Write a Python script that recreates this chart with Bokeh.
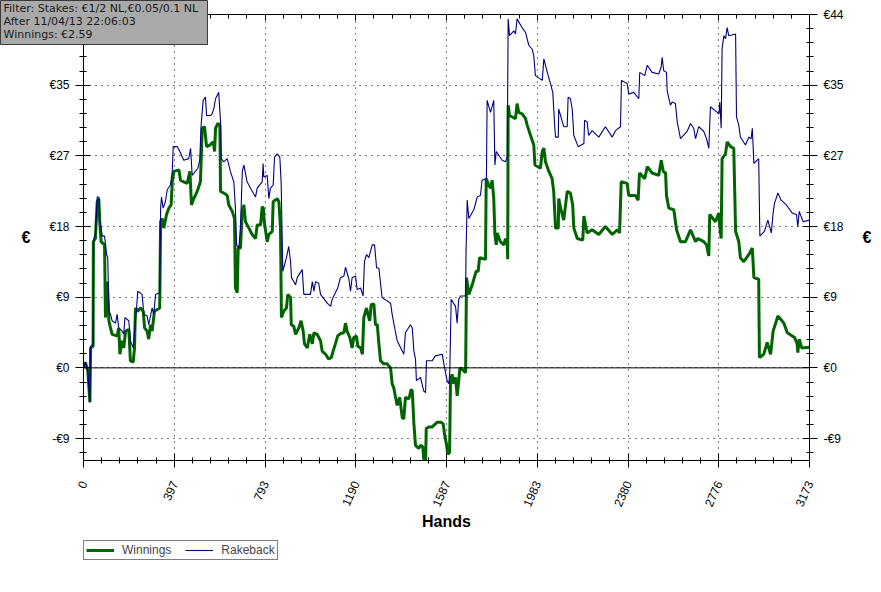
from bokeh.plotting import figure
from bokeh.layouts import column
from bokeh.models import (Range1d, LinearAxis, FixedTicker, Span, Label, Legend,
                          LegendItem, Grid)
from bokeh.embed import file_html
from bokeh.resources import INLINE

# ---------------- data ----------------
X_MAX = 3173
Y_MIN, Y_MAX = -11.6, 44.25

x_tick_labels = ["0", "397", "793", "1190", "1587", "1983", "2380", "2776", "3173"]
y_tick_labels = ["-€9", "€0", "€9", "€18", "€27", "€35", "€44"]

winnings_hands = [0, 8, 19, 28, 31, 42, 43, 52, 60, 67, 71, 77, 92, 96, 104, 111, 118, 125, 147, 154,
                  159, 169, 176, 184, 198, 205, 217, 223, 227, 237, 249, 261, 267, 278, 285, 293, 300,
                  310, 333, 337, 344, 351, 363, 373, 383, 388, 395, 417, 424, 438, 453, 465, 472, 482,
                  497, 511, 519, 529, 538, 552, 567, 573, 577, 587, 596, 599, 613, 628, 635, 650, 660,
                  664, 672, 676, 686, 694, 701, 708, 723, 737, 752, 759, 774, 781, 786, 790, 803, 810,
                  825, 829, 847, 854, 861, 865, 875, 887, 893, 905, 908, 919, 927, 941, 951, 960, 966,
                  978, 989, 1000, 1007, 1021, 1036, 1043, 1058, 1072, 1083, 1091, 1101, 1111, 1123,
                  1138, 1145, 1152, 1164, 1174, 1181, 1193, 1199, 1211, 1219, 1225, 1237, 1243, 1251,
                  1257, 1269, 1276, 1284, 1291, 1298, 1312, 1327, 1342, 1349, 1356, 1364, 1371, 1382,
                  1393, 1400, 1407, 1422, 1432, 1437, 1444, 1451, 1465, 1473, 1483, 1487, 1495, 1498,
                  1509, 1524, 1546, 1560, 1572, 1578, 1586, 1592, 1600, 1604, 1611, 1618, 1626, 1633,
                  1640, 1645, 1655, 1670, 1674, 1684, 1699, 1716, 1725, 1731, 1757, 1760, 1771, 1779,
                  1786, 1793, 1798, 1804, 1808, 1822, 1837, 1844, 1852, 1854, 1856, 1862, 1888, 1895,
                  1902, 1917, 1932, 1939, 1954, 1968, 1973, 1997, 2005, 2012, 2019, 2034, 2048, 2055,
                  2060, 2063, 2075, 2077, 2085, 2099, 2114, 2128, 2138, 2143, 2158, 2182, 2187, 2201,
                  2223, 2252, 2281, 2311, 2333, 2343, 2350, 2376, 2383, 2412, 2424, 2430, 2453, 2464,
                  2485, 2514, 2525, 2534, 2544, 2548, 2558, 2580, 2592, 2609, 2631, 2653, 2675, 2685,
                  2711, 2723, 2733, 2737, 2762, 2777, 2781, 2787, 2791, 2806, 2813, 2828, 2842, 2850,
                  2864, 2871, 2886, 2908, 2923, 2930, 2951, 2954, 2973, 2988, 3003, 3014, 3035, 3061,
                  3076, 3108, 3119, 3122, 3128, 3139, 3173]
winnings_eur = [0.0, 0.7, -0.4, -4.3, 2.5, 2.7, 15.8, 16.2, 20.8, 21.2, 18.3, 15.8, 15.4, 6.3, 10.8, 5.9,
                5.0, 4.2, 4.0, 5.0, 1.7, 3.4, 2.5, 4.6, 4.8, 0.9, 0.7, 2.5, 7.5, 7.1, 7.5, 7.1, 5.0, 4.6,
                3.6, 5.4, 4.6, 7.1, 7.5, 18.3, 18.7, 17.5, 19.2, 20.0, 20.4, 23.3, 24.6, 24.8, 23.5,
                23.3, 23.1, 24.6, 20.4, 21.2, 22.1, 23.3, 30.0, 30.2, 27.7, 27.9, 28.3, 27.1, 30.0,
                30.6, 30.4, 22.1, 21.9, 21.6, 20.4, 19.6, 18.7, 10.0, 9.4, 15.0, 15.0, 19.6, 20.4,
                18.3, 17.5, 16.7, 16.2, 17.9, 17.9, 20.2, 20.0, 18.3, 15.8, 16.7, 17.1, 20.8, 21.2,
                20.8, 17.5, 6.3, 7.1, 7.5, 9.2, 8.8, 5.4, 5.2, 4.2, 5.0, 5.9, 4.6, 3.0, 2.5, 4.2, 3.0,
                4.4, 4.2, 3.4, 2.1, 1.7, 1.1, 1.3, 2.1, 3.0, 4.0, 4.3, 4.4, 5.6, 4.6, 3.8, 2.5, 3.8,
                4.0, 2.7, 2.5, 1.7, 6.3, 7.5, 6.7, 5.9, 7.9, 8.0, 5.4, 5.4, 3.0, 0.9, 0.5, 0.5, 0.0,
                -2.0, -2.5, -3.7, -4.7, -3.7, -6.2, -6.4, -3.7, -3.9, -2.7, -2.9, -7.0, -9.7, -10.1,
                -9.7, -9.9, -11.4, -11.6, -7.6, -7.4, -7.4, -6.8, -6.8, -7.0, -8.3, -9.5, -10.8,
                -10.6, -1.6, -0.8, -2.0, -1.2, -3.5, -1.6, 0.0, -0.2, -0.6, 11.3, 9.2, 10.4, 12.1,
                12.1, 13.8, 13.6, 23.7, 22.9, 22.5, 23.5, 21.2, 16.7, 15.4, 16.9, 15.8, 15.4, 16.2,
                15.4, 13.6, 32.9, 31.6, 31.2, 33.1, 32.0, 31.8, 31.2, 30.4, 29.1, 27.9, 25.4, 25.0,
                27.1, 27.5, 25.8, 24.6, 23.7, 22.1, 19.2, 17.5, 17.5, 21.2, 20.0, 18.5, 22.1, 21.9,
                20.4, 17.5, 16.2, 16.0, 19.0, 16.9, 17.3, 16.7, 17.7, 16.7, 17.3, 16.9, 23.3, 23.1,
                21.6, 21.6, 21.0, 24.4, 23.7, 25.2, 24.4, 24.1, 26.0, 24.6, 24.4, 21.6, 20.0, 19.8,
                17.3, 15.8, 15.8, 17.3, 15.8, 16.2, 15.8, 15.4, 14.0, 19.2, 18.3, 19.4, 17.7, 16.2,
                26.2, 26.8, 28.3, 27.7, 27.5, 17.1, 15.8, 13.8, 13.3, 14.2, 15.0, 11.3, 11.1, 1.3,
                1.7, 3.2, 1.7, 4.6, 6.5, 5.6, 4.4, 3.8, 3.0, 1.9, 3.6, 2.5, 2.59]

rakeback_hands = [0, 8, 19, 28, 31, 42, 45, 52, 60, 67, 71, 77, 82, 92, 101, 106, 111, 118, 125, 140,
                  147, 154, 169, 176, 181, 198, 205, 217, 223, 232, 237, 256, 264, 278, 285, 300, 307,
                  315, 333, 337, 341, 348, 358, 366, 380, 388, 392, 410, 421, 438, 460, 468, 475, 500,
                  508, 514, 523, 533, 538, 555, 562, 570, 577, 591, 599, 602, 613, 628, 642, 657, 664,
                  669, 679, 686, 694, 701, 715, 730, 752, 759, 781, 785, 788, 803, 810, 817, 829, 835,
                  847, 858, 864, 871, 887, 897, 905, 909, 927, 934, 956, 963, 992, 1000, 1007, 1014,
                  1028, 1036, 1065, 1080, 1087, 1111, 1123, 1138, 1145, 1160, 1167, 1174, 1189, 1196,
                  1211, 1222, 1228, 1237, 1247, 1262, 1272, 1281, 1291, 1305, 1342, 1349, 1364, 1371,
                  1393, 1400, 1407, 1429, 1437, 1444, 1451, 1455, 1473, 1487, 1495, 1499, 1524, 1538,
                  1568, 1575, 1589, 1597, 1601, 1607, 1626, 1633, 1640, 1648, 1670, 1672, 1677, 1684,
                  1706, 1721, 1735, 1742, 1761, 1764, 1779, 1793, 1798, 1804, 1830, 1844, 1852, 1856,
                  1862, 1881, 1888, 1895, 1917, 1932, 1946, 1961, 1968, 1975, 2005, 2012, 2027, 2041,
                  2051, 2060, 2063, 2075, 2077, 2099, 2114, 2118, 2128, 2136, 2143, 2162, 2187, 2190,
                  2201, 2208, 2223, 2252, 2281, 2311, 2325, 2347, 2351, 2376, 2383, 2405, 2427, 2431,
                  2453, 2464, 2485, 2514, 2525, 2529, 2536, 2548, 2551, 2565, 2573, 2587, 2595, 2609,
                  2638, 2653, 2667, 2675, 2689, 2711, 2723, 2733, 2740, 2770, 2777, 2781, 2787, 2791,
                  2799, 2806, 2813, 2820, 2850, 2854, 2864, 2871, 2893, 2908, 2918, 2923, 2930, 2951,
                  2956, 2976, 2991, 3006, 3014, 3020, 3035, 3049, 3072, 3097, 3116, 3122, 3128, 3145,
                  3173]
rakeback_eur = [0.0, 0.7, -0.4, -4.3, 2.7, 3.0, 16.2, 16.7, 21.4, 21.4, 18.3, 17.5, 16.5, 16.5, 14.2,
                13.8, 7.1, 6.7, 5.9, 5.6, 6.7, 5.0, 4.6, 4.2, 6.3, 5.9, 3.4, 2.5, 4.6, 7.5, 9.6, 9.2,
                6.7, 6.5, 5.4, 7.5, 6.7, 9.2, 9.4, 20.0, 21.4, 20.0, 20.8, 22.3, 22.9, 24.6, 27.7,
                27.7, 27.1, 26.0, 26.2, 27.5, 24.1, 25.0, 26.0, 30.4, 33.5, 33.9, 31.6, 31.6, 31.8,
                32.5, 33.7, 34.5, 30.8, 26.2, 25.8, 26.2, 24.6, 23.3, 20.0, 15.4, 15.0, 17.5, 24.6,
                25.4, 23.3, 22.5, 21.4, 22.5, 23.3, 25.6, 23.9, 24.1, 21.2, 22.5, 22.9, 26.4, 26.8,
                26.4, 23.1, 12.1, 13.8, 15.2, 13.3, 11.3, 10.4, 11.3, 12.3, 9.2, 9.2, 10.8, 9.6, 10.8,
                10.6, 9.2, 8.1, 7.7, 8.6, 10.0, 11.3, 11.5, 12.6, 11.1, 9.6, 11.3, 11.5, 9.8, 10.0,
                9.0, 13.3, 14.2, 13.8, 15.4, 15.4, 12.5, 12.5, 8.8, 8.1, 6.7, 4.4, 3.4, 2.1, 1.7, 4.4,
                5.4, 5.0, 2.1, 1.1, -1.6, -1.2, -2.9, -3.1, 0.9, 0.9, 1.5, 1.7, 0.5, -1.6, -2.0, -0.4,
                8.6, 7.7, 5.6, 8.6, 9.0, 9.0, 14.6, 21.0, 18.7, 19.8, 21.4, 21.6, 23.5, 23.7, 33.5,
                32.0, 33.5, 25.4, 27.1, 26.0, 25.8, 26.4, 43.7, 41.6, 42.2, 41.8, 43.7, 42.6, 42.0,
                40.4, 39.9, 39.1, 36.6, 36.0, 38.7, 37.0, 35.6, 34.5, 30.0, 28.9, 28.9, 32.4, 30.2,
                30.2, 33.9, 33.7, 32.4, 29.1, 27.7, 28.1, 31.0, 30.8, 29.1, 29.7, 28.9, 30.2, 28.9,
                29.7, 30.2, 36.0, 35.6, 34.3, 34.5, 33.7, 37.0, 36.6, 37.9, 37.0, 36.8, 37.7, 38.9,
                37.2, 37.0, 34.7, 32.9, 33.3, 33.1, 30.8, 28.7, 29.6, 30.6, 30.0, 28.7, 30.2, 29.6,
                28.7, 27.5, 32.7, 32.0, 31.8, 33.3, 30.0, 40.0, 41.6, 41.2, 42.6, 41.6, 41.8, 31.4,
                30.4, 28.9, 27.9, 28.9, 28.7, 30.0, 25.6, 26.2, 16.5, 17.1, 18.5, 16.9, 19.4, 20.6,
                21.9, 21.0, 20.4, 19.4, 19.2, 17.7, 19.6, 18.3, 18.5]

series_names = ["Winnings", "Rakeback"]
series_colors = ["#006400", "#000080"]
info_lines = ["Filter: Stakes: €1/2 NL,€0.05/0.1 NL", "After 11/04/13 22:06:03", "Winnings: €2.59"]

# ---------------- ticks ----------------
x_major = [i * X_MAX / 8 for i in range(9)]
x_minor = [i * X_MAX / 40 for i in range(41)]
y_step = Y_MAX / 5
y_major = [i * y_step for i in range(-1, 6)]
y_minor = [i * y_step / 5 for i in range(-6, 26)]

x_ticker = FixedTicker(ticks=x_major, minor_ticks=x_minor)
y_ticker = FixedTicker(ticks=y_major, minor_ticks=y_minor)
x_over = {t: s for t, s in zip(x_major, x_tick_labels)}
y_over = {t: s for t, s in zip(y_major, y_tick_labels)}
top_over = {t: "" for t in x_major}

TICK_FONT = "Liberation Sans"
W = 880

p = figure(width=W, height=540, output_backend="svg", toolbar_location=None,
           x_range=Range1d(0, X_MAX), y_range=Range1d(Y_MIN, Y_MAX),
           x_axis_location=None, y_axis_location=None,
           min_border_left=83, min_border_right=71, min_border_top=14, min_border_bottom=80)
p.outline_line_color = "black"
p.outline_line_width = 1
p.background_fill_color = "white"
p.border_fill_color = "white"
for g in p.grid:
    g.visible = False

# grids
p.add_layout(Grid(dimension=0, ticker=x_ticker, grid_line_color="black",
                  grid_line_dash="1 5", grid_line_width=1))
p.add_layout(Grid(dimension=1, ticker=y_ticker, grid_line_color="black",
                  grid_line_dash="1 5", grid_line_width=1))

# axes
xaxis = LinearAxis(ticker=x_ticker, major_label_overrides=x_over,
                   major_tick_in=7, major_tick_out=7, minor_tick_in=3, minor_tick_out=3,
                   major_label_orientation=1.15, major_label_standoff=14,
                   major_label_text_font=TICK_FONT, major_label_text_font_size="12px",
                   major_label_text_color="black",
                   axis_label="Hands", axis_label_text_font="Liberation Sans",
                   axis_label_text_font_style="bold", axis_label_text_font_size="16px",
                   axis_label_standoff=0, axis_label_text_color="black")
p.add_layout(xaxis, "below")

top_axis = LinearAxis(ticker=x_ticker, major_label_overrides=top_over,
                      major_tick_in=6, major_tick_out=0,
                      minor_tick_in=4, minor_tick_out=0, major_label_standoff=0)
p.add_layout(top_axis, "above")


def make_yaxis():
    ax = LinearAxis(ticker=y_ticker, major_label_overrides=y_over,
                    major_tick_in=7, major_tick_out=8, minor_tick_in=3, minor_tick_out=4,
                    major_label_standoff=6, major_label_text_font=TICK_FONT,
                    major_label_text_font_size="12px", major_label_text_color="black",
                    axis_label="€", axis_label_text_font="Liberation Sans",
                    axis_label_text_font_style="bold", axis_label_text_font_size="16px",
                    axis_label_standoff=16, axis_label_text_color="black")
    try:
        ax.axis_label_orientation = "horizontal"
    except AttributeError:
        pass
    return ax


p.add_layout(make_yaxis(), "left")
p.add_layout(make_yaxis(), "right")

# zero line
p.add_layout(Span(location=0, dimension="width", line_color="black", line_width=1))

# series
p.line(winnings_hands, winnings_eur, line_color=series_colors[0], line_width=3)
p.line(rakeback_hands, rakeback_eur, line_color=series_colors[1], line_width=1.1)

# ---------------- legend strip ----------------
lg = figure(width=W, height=30, output_backend="svg", toolbar_location=None,
            x_axis_location=None, y_axis_location=None,
            min_border_left=83, min_border_right=0, min_border_top=0, min_border_bottom=0)
lg.outline_line_color = None
lg.background_fill_color = "white"
lg.border_fill_color = "white"
for g in lg.grid:
    g.visible = False
lw = lg.line(winnings_hands[:1], winnings_eur[:1], line_color=series_colors[0], line_width=3)
lr = lg.line(rakeback_hands[:1], rakeback_eur[:1], line_color=series_colors[1], line_width=1.1)
legend = Legend(items=[LegendItem(label=series_names[0], renderers=[lw]),
                       LegendItem(label=series_names[1], renderers=[lr])],
                location="top_left", orientation="horizontal",
                border_line_color="black", border_line_width=1, background_fill_alpha=1,
                label_text_font=TICK_FONT, label_text_font_size="12px",
                glyph_width=28, glyph_height=12, label_standoff=8, spacing=14,
                padding=2, margin=0, label_height=13)
lg.add_layout(legend)

# ---------------- info box (separate root, overlaid at top-left) ----------------
ib = figure(width=208, height=45, output_backend="svg", toolbar_location=None,
            x_axis_location=None, y_axis_location=None,
            min_border_left=0, min_border_right=0, min_border_top=0, min_border_bottom=0,
            styles={"position": "absolute", "left": "0px", "top": "0px", "z-index": "10"})
ib.outline_line_color = "#3a3a3a"
ib.background_fill_color = "#a9a9a9"
ib.border_fill_color = "#a9a9a9"
for g in ib.grid:
    g.visible = False
ib.add_layout(Label(x=3, y=44, x_units="screen", y_units="screen", anchor="top_left",
                    text="\n".join(info_lines), text_font="DejaVu Sans",
                    text_font_size="11px", text_color="#1a1a1a", text_line_height=1.02))

open("out.html", "w").write(file_html([column(p, lg, spacing=0), ib], INLINE))
